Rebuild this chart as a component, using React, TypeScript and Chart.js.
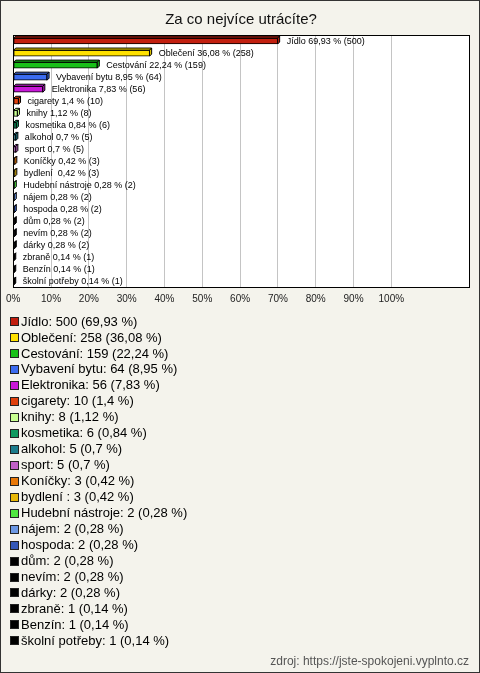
import React, { useEffect, useRef } from "react";
import { Chart, registerables } from "chart.js";

Chart.register(...registerables);

const titleText = "Za co nejvíce utrácíte?";
const sourceText = "zdroj: https://jste-spokojeni.vyplnto.cz";

const categories = [
  "Jídlo", "Oblečení", "Cestování", "Vybavení bytu", "Elektronika", "cigarety", "knihy",
  "kosmetika", "alkohol", "sport", "Koníčky", "bydlení ", "Hudební nástroje", "nájem",
  "hospoda", "dům", "nevím", "dárky", "zbraně", "Benzín", "školní potřeby",
];
const counts = [500, 258, 159, 64, 56, 10, 8, 6, 5, 5, 3, 3, 2, 2, 2, 2, 2, 2, 1, 1, 1];
const percents = [
  69.93, 36.08, 22.24, 8.95, 7.83, 1.4, 1.12, 0.84, 0.7, 0.7, 0.42, 0.42, 0.28, 0.28,
  0.28, 0.28, 0.28, 0.28, 0.14, 0.14, 0.14,
];
const colors = [
  "#c21f0f", "#ffe100", "#18c018", "#3c6cf0", "#c818d8", "#e0400c", "#c8ff90",
  "#109a60", "#1c7c8c", "#c060c8", "#e87808", "#e8b808", "#50e840", "#6c98e4",
  "#3458b8", "#000000", "#000000", "#000000", "#000000", "#000000", "#000000",
];
const tickValues = [0, 10, 20, 30, 40, 50, 60, 70, 80, 90, 100];

const FONT = "'Liberation Sans', Arial, sans-serif";
const fmt = (p: number) => String(p).replace(".", ",");

const plotBgPlugin = {
  id: "plotBg",
  beforeDraw(chart: any) {
    const { ctx, chartArea: a } = chart;
    ctx.save();
    ctx.fillStyle = "#ffffff";
    ctx.fillRect(a.left, a.top, a.right - a.left, a.bottom - a.top);
    ctx.restore();
  },
  afterDraw(chart: any) {
    const { ctx, chartArea: a } = chart;
    ctx.save();
    ctx.strokeStyle = "#000000";
    ctx.lineWidth = 1;
    ctx.strokeRect(Math.round(a.left) + 0.5, Math.round(a.top) + 0.5, Math.round(a.right - a.left) - 1, Math.round(a.bottom - a.top) - 1);
    ctx.restore();
  },
};

const bar3dPlugin = {
  id: "bar3d",
  afterDatasetsDraw(chart: any) {
    const { ctx } = chart;
    const meta = chart.getDatasetMeta(0);
    const d = 2;
    ctx.save();
    ctx.lineWidth = 1;
    ctx.strokeStyle = "#000000";
    meta.data.forEach((el: any, i: number) => {
      const x0 = el.base;
      const x1 = el.x;
      const h = el.height;
      const y0 = el.y - h / 2;
      const y1 = el.y + h / 2;
      ctx.fillStyle = colors[i];
      // top face
      ctx.beginPath();
      ctx.moveTo(x0, y0);
      ctx.lineTo(x0 + d, y0 - d);
      ctx.lineTo(x1 + d, y0 - d);
      ctx.lineTo(x1, y0);
      ctx.closePath();
      ctx.fill();
      ctx.stroke();
      // right face
      ctx.beginPath();
      ctx.moveTo(x1, y0);
      ctx.lineTo(x1 + d, y0 - d);
      ctx.lineTo(x1 + d, y1 - d);
      ctx.lineTo(x1, y1);
      ctx.closePath();
      ctx.fill();
      ctx.stroke();
      // label
      ctx.fillStyle = "#000000";
      ctx.font = `9px ${FONT}`;
      ctx.textBaseline = "middle";
      ctx.textAlign = "left";
      ctx.fillText(`${categories[i]} ${fmt(percents[i])} % (${counts[i]})`, x1 + 9, el.y);
    });
    ctx.restore();
  },
};

const legendPlugin = {
  id: "listLegend",
  afterDraw(chart: any) {
    const { ctx } = chart;
    ctx.save();
    ctx.font = `13px ${FONT}`;
    ctx.textBaseline = "middle";
    ctx.textAlign = "left";
    categories.forEach((c, i) => {
      const y = 321 + i * 15.97;
      ctx.fillStyle = colors[i];
      ctx.fillRect(9, Math.round(y - 5), 9, 9);
      ctx.strokeStyle = "#222222";
      ctx.lineWidth = 1;
      ctx.strokeRect(9.5, Math.round(y - 5) + 0.5, 8, 8);
      ctx.fillStyle = "#000000";
      ctx.fillText(`${c}: ${counts[i]} (${fmt(percents[i])} %)`, 20, y);
    });
    ctx.font = `12px ${FONT}`;
    ctx.fillStyle = "#555555";
    ctx.textAlign = "right";
    ctx.fillText(sourceText, 468, 661);
    ctx.restore();
  },
};

export default function App() {
  const ref = useRef<HTMLCanvasElement | null>(null);
  useEffect(() => {
    if (!ref.current) return;
    const chart = new Chart(ref.current, {
      type: "bar",
      data: {
        labels: categories,
        datasets: [
          {
            data: percents,
            backgroundColor: colors,
            borderColor: "#000000",
            borderWidth: 1,
            borderSkipped: false,
            barThickness: 6,
          },
        ],
      },
      options: {
        indexAxis: "y",
        responsive: false,
        animation: false,
        layout: { padding: { left: 11, right: 9, top: 0, bottom: 364 } },
        plugins: {
          legend: { display: false },
          tooltip: { enabled: false },
          title: {
            display: true,
            text: titleText,
            color: "#111111",
            font: { size: 15, family: FONT, weight: "normal" },
            padding: { top: 10, bottom: 6 },
          },
        },
        scales: {
          x: {
            min: 0,
            max: 120.8,
            afterBuildTicks: (scale: any) => {
              scale.ticks = tickValues.map((v) => ({ value: v }));
            },
            afterFit: (scale: any) => {
              scale.height = 20;
            },
            ticks: {
              color: "#222222",
              font: { size: 10, family: FONT },
              padding: 5,
              maxRotation: 0,
              autoSkip: false,
              callback: (v: any) => `${v}%`,
            },
            grid: { color: "#c4c4c4", drawTicks: false },
            border: { display: false },
          },
          y: {
            display: false,
            grid: { display: false },
          },
        },
      },
      plugins: [plotBgPlugin, bar3dPlugin, legendPlugin],
    });
    return () => chart.destroy();
  }, []);
  return (
    <div
      style={{
        position: "absolute",
        left: 0,
        top: 0,
        width: 480,
        height: 673,
        boxSizing: "border-box",
        border: "1px solid #333333",
        background: "#f4f3ec",
      }}
    >
      <canvas ref={ref} width={478} height={671} style={{ display: "block", width: 478, height: 671 }} />
    </div>
  );
}
